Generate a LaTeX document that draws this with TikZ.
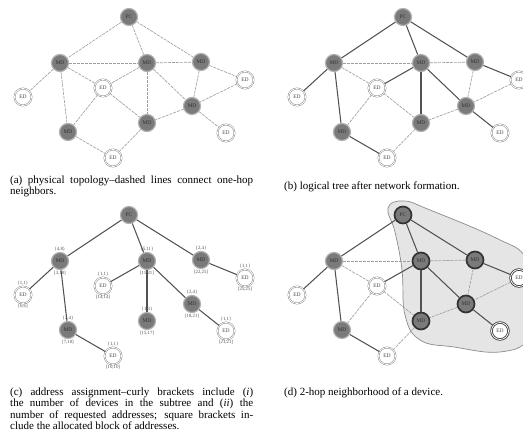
\documentclass[tikz,border=0pt]{standalone}
\usepackage{fontspec}
\setmainfont{Liberation Serif}

% per-node extra styles, redefined inside each panel
\tikzset{
  x-pc/.style={}, x-mdl/.style={}, x-mdc/.style={}, x-mdr/.style={},
  x-edfr/.style={}, x-edfl/.style={}, x-edc/.style={}, x-mdrm/.style={},
  x-mdcb/.style={}, x-mdlow/.style={}, x-edb/.style={}, x-edrb/.style={},
}

% the twelve devices of the network
\newcommand\netnodes[1]{%
  \node[md,x-pc]    (#1pc)    at (129,17)  {PC};
  \node[md,x-mdl]   (#1mdl)   at (60,63)   {MD};
  \node[md,x-mdc]   (#1mdc)   at (147,63)  {MD};
  \node[md,x-mdr]   (#1mdr)   at (201,62)  {MD};
  \node[ed,x-edfr]  (#1edfr)  at (245,80)  {ED};
  \node[ed,x-edfl]  (#1edfl)  at (23,97)   {ED};
  \node[ed,x-edc]   (#1edc)   at (103,88)  {ED};
  \node[md,x-mdrm]  (#1mdrm)  at (192,106) {MD};
  \node[md,x-mdcb]  (#1mdcb)  at (147,123) {MD};
  \node[md,x-mdlow] (#1mdlow) at (68,132)  {MD};
  \node[ed,x-edb]   (#1edb)   at (113,158) {ED};
  \node[ed,x-edrb]  (#1edrb)  at (226,133) {ED};
}

% links: #2 = style of tree links, #3 = style of the other one-hop links
\newcommand\netedges[3]{%
  \path[#2] (#1pc) -- (#1mdl);
  \path[#2] (#1pc) -- (#1mdc);
  \path[#2] (#1pc) -- (#1mdr);
  \path[#2] (#1mdl) -- (#1edfl);
  \path[#2] (#1mdl) -- (#1mdlow);
  \path[#2] (#1mdlow) -- (#1edb);
  \path[#2] (#1mdc) -- (#1edc);
  \path[#2] (#1mdc) -- (#1mdcb);
  \path[#2] (#1mdc) -- (#1mdrm);
  \path[#2] (#1mdrm) -- (#1edrb);
  \path[#2] (#1mdr) -- (#1edfr);
  \path[#3] (#1mdl) -- (#1mdc);
  \path[#3] (#1mdc) -- (#1mdr);
  \path[#3] (#1mdl) -- (#1edc);
  \path[#3] (#1edc) -- (#1mdlow);
  \path[#3] (#1edc) -- (#1mdcb);
  \path[#3] (#1mdr) -- (#1mdrm);
  \path[#3] (#1edfr) -- (#1mdrm);
  \path[#3] (#1mdrm) -- (#1mdcb);
  \path[#3] (#1mdcb) -- (#1edb);
}

\begin{document}
\begin{tikzpicture}[x=1pt,y=-1pt,
  nd/.style={circle, minimum size=17pt, inner sep=0pt, font=\fontsize{5.5}{5.5}\selectfont},
  md/.style={nd, fill=black!52, draw=black!30, line width=1.2pt, text=black!80},
  ed/.style={nd, fill=white, draw=black!50, double=white, double distance=0.8pt,
             line width=0.45pt, text=black!70},
  hlmd/.style={draw=black!80, line width=1.7pt},
  hled/.style={draw=black!80, line width=0.8pt},
  phys/.style={draw=black!38, line width=0.65pt, dash pattern=on 3pt off 1pt},
  tree/.style={draw=black!68, line width=1.05pt},
  none/.style={},
  lab/.style={font=\fontsize{4.8}{5}\selectfont, inner sep=0.4pt, text=black!70},
  captxt/.style={anchor=mid west, inner sep=0pt, font=\fontsize{11}{12}\selectfont},
]
\useasboundingbox (0,0) rectangle (523,438);

% (a) physical topology
\begin{scope}
  \netnodes{a-}
  \netedges{a-}{phys}{phys}
\end{scope}
\node[captxt] (capa1) at (10,181) {\makebox[243pt][s]{(a) physical topology--dashed lines connect one-hop}};
\node[captxt] (capa2) at (10,192.5) {neighbors.};

% (b) logical tree
\begin{scope}[shift={(274,0)}]
  \netnodes{b-}
  \netedges{b-}{tree}{phys}
\end{scope}
\node[captxt] (capb) at (284,187) {(b) logical tree after network formation.};

% (c) address assignment
\begin{scope}[shift={(0,198)},
  x-mdl/.style={label={[lab]above:\{4,8\}}, label={[lab]below:{[3,10]}}},
  x-edfl/.style={label={[lab]above:\{1,1\}}, label={[lab]below:{[6,6]}}},
  x-mdlow/.style={label={[lab]above:\{2,4\}}, label={[lab]below:{[7,10]}}},
  x-edb/.style={label={[lab]above:\{1,1\}}, label={[lab]below:{[10,10]}}},
  x-mdc/.style={label={[lab]above:\{5,11\}}, label={[lab]below:{[11,21]}}},
  x-edc/.style={label={[lab]above:\{1,1\}}, label={[lab]below:{[14,14]}}},
  x-mdcb/.style={label={[lab]above:\{1,3\}}, label={[lab]below:{[15,17]}}},
  x-mdrm/.style={label={[lab]above:\{2,4\}}, label={[lab]below:{[18,21]}}},
  x-edrb/.style={label={[lab]above:\{1,1\}}, label={[lab]below:{[21,21]}}},
  x-mdr/.style={label={[lab]above:\{2,4\}}, label={[lab]below:{[22,25]}}},
  x-edfr/.style={label={[lab]above:\{1,1\}}, label={[lab]below:{[25,25]}}},
]
  \netnodes{c-}
  \netedges{c-}{tree}{none}
\end{scope}
\node[captxt] (capc1) at (10,393) {\makebox[243pt][s]{(c) address assignment--curly brackets include (\textit{i})}};
\node[captxt] (capc2) at (10,404.5) {\makebox[243pt][s]{the number of devices in the subtree and (\textit{ii}) the}};
\node[captxt] (capc3) at (10,416) {\makebox[243pt][s]{number of requested addresses; square brackets in-}};
\node[captxt] (capc4) at (10,427.5) {clude the allocated block of addresses.};

% (d) 2-hop neighborhood
\begin{scope}[shift={(274,198)},
  x-pc/.style={hlmd}, x-mdc/.style={hlmd}, x-mdr/.style={hlmd},
  x-mdrm/.style={hlmd}, x-mdcb/.style={hlmd},
  x-edfr/.style={hled}, x-edrb/.style={hled},
]
  \filldraw[fill=black!10, draw=black!45, line width=0.7pt]
    plot[smooth cycle, tension=0.7] coordinates {
      (114,10) (130,3) (156,12) (222,40) (252,60) (260,100) (255,140)
      (226,154) (180,149) (146,142) (131,117) (128,72) (121,34)};
  \netnodes{d-}
  \netedges{d-}{tree}{phys}
\end{scope}
\node[captxt] (capd) at (284,393) {(d) 2-hop neighborhood of a device.};
\end{tikzpicture}
\end{document}
